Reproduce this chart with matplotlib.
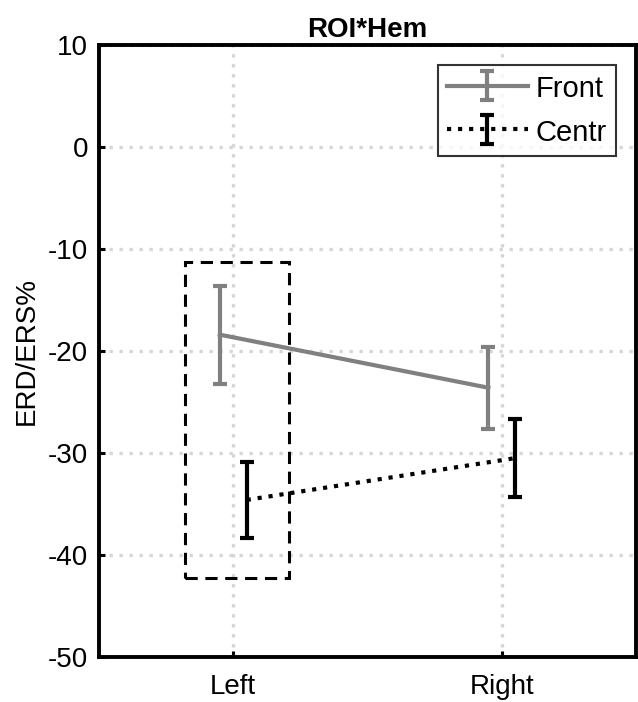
import matplotlib
matplotlib.use("Agg")
import matplotlib.pyplot as plt
from matplotlib.patches import Rectangle

categories = ["Left", "Right"]
front_mean = [-18.4, -23.6]
front_err = [4.8, 4.0]
centr_mean = [-34.6, -30.5]
centr_err = [3.7, 3.8]
yticks = [10, 0, -10, -20, -30, -40, -50]

plt.rcParams['font.family'] = ['Liberation Sans', 'DejaVu Sans']
plt.rcParams['axes.unicode_minus'] = False

fig = plt.figure(figsize=(6.38, 7.02), dpi=100)
ax = fig.add_axes([99/638, 1-657/702, (636-99)/638, (657-45)/702])

xpos = [1, 2]
off = 0.05
ax.errorbar([x - off for x in xpos], front_mean, yerr=front_err, color=(0.5, 0.5, 0.5),
            lw=3.0, capsize=5, capthick=3.0, elinewidth=3.0, label="Front", zorder=3)
ax.errorbar([x + off for x in xpos], centr_mean, yerr=centr_err, color='black',
            lw=3.0, ls=':', capsize=5, capthick=3.0, elinewidth=3.0, label="Centr", zorder=3)

ax.add_patch(Rectangle((0.82, -42.25), 0.388, 30.95, fill=False, ls=(0, (4, 2.5)),
                       lw=2.2, ec='black', zorder=4))

ax.set_xlim(0.5, 2.5)
ax.set_ylim(-50, 10)
ax.set_xticks(xpos)
ax.set_xticklabels(categories)
ax.set_yticks(yticks)
ax.grid(True, ls=(0, (1, 2.0)), color=(0.84, 0.84, 0.84), lw=2.4)
ax.set_axisbelow(True)
ax.tick_params(direction='in', length=4, width=2.2, labelsize=20)
ax.tick_params(axis='x', pad=12)
ax.tick_params(axis='y', pad=8)
for s in ax.spines.values():
    s.set_linewidth(2.8)
ax.set_ylabel("ERD/ERS%", fontsize=20, labelpad=6)
ax.set_title("ROI*Hem", fontsize=20, fontweight='bold', pad=6)

leg = ax.legend(loc='upper right', fontsize=21, frameon=True, fancybox=False,
                edgecolor='black', handlelength=2.8, borderpad=0.3, labelspacing=0.5,
                handletextpad=0.25, borderaxespad=0.7, handleheight=1.0)
leg.get_frame().set_linewidth(1.5)

fig.savefig("out.png", dpi=100)
